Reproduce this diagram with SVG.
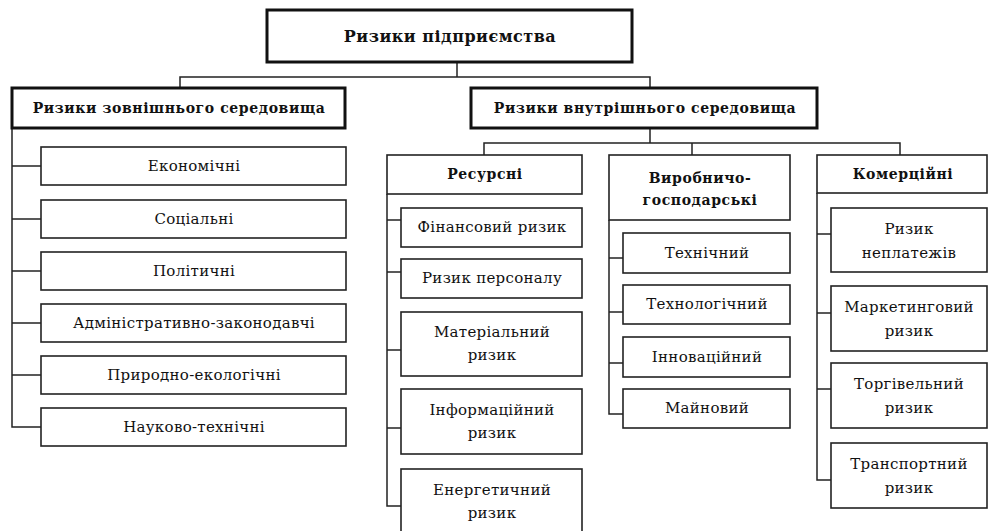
<svg xmlns="http://www.w3.org/2000/svg" width="989" height="531" viewBox="0 0 989 531">
<style>
  text { font-family: "DejaVu Serif", "Liberation Serif", serif; fill: #111; text-anchor: middle; }
  .t { font-size: 15px; letter-spacing: 0.3px; }
  .h { font-size: 14px; font-weight: bold; letter-spacing: 0.6px; }
  .ttl { font-size: 16px; font-weight: bold; letter-spacing: 0.5px; }
  .main { fill: #fff; stroke: #111; stroke-width: 3; }
  .box { fill: #fff; stroke: #222; stroke-width: 1.6; }
  .conn line, .conn polyline { stroke: #222; stroke-width: 1.5; fill: none; }
</style>
<rect width="989" height="531" fill="#fff"/>
<g class="conn" id="connectors">
  <polyline points="457,62 457,77"/>
  <polyline points="180,88 180,77 650,77 650,88"/>
  <polyline points="12,128 12,427 41,427"/>
  <line x1="12" y1="166" x2="41" y2="166"/>
  <line x1="12" y1="219" x2="41" y2="219"/>
  <line x1="12" y1="271" x2="41" y2="271"/>
  <line x1="12" y1="323" x2="41" y2="323"/>
  <line x1="12" y1="375" x2="41" y2="375"/>
  <polyline points="650,128 650,143"/>
  <polyline points="484,155 484,143 900,143 900,155"/>
  <line x1="692" y1="143" x2="692" y2="155"/>
  <polyline points="387,194 387,506 401,506"/>
  <line x1="387" y1="220" x2="401" y2="220"/>
  <line x1="387" y1="272" x2="401" y2="272"/>
  <line x1="387" y1="350" x2="401" y2="350"/>
  <line x1="387" y1="428" x2="401" y2="428"/>
  <polyline points="609,220 609,414 623,414"/>
  <line x1="609" y1="258" x2="623" y2="258"/>
  <line x1="609" y1="312" x2="623" y2="312"/>
  <line x1="609" y1="363" x2="623" y2="363"/>
  <polyline points="817,193 817,480 831,480"/>
  <line x1="817" y1="234" x2="831" y2="234"/>
  <line x1="817" y1="313" x2="831" y2="313"/>
  <line x1="817" y1="389" x2="831" y2="389"/>
</g>
<g id="root"><rect class="main" x="267" y="10" width="365" height="52"/><text class="ttl" x="450" y="42">Ризики підприємства</text></g>
<g id="external"><rect class="main" x="12" y="88" width="333" height="40"/><text class="h" x="179" y="113">Ризики зовнішнього середовища</text></g>
<g id="internal"><rect class="main" x="471" y="88" width="346" height="40"/><text class="h" x="645" y="113">Ризики внутрішнього середовища</text></g>
<g id="ext1"><rect class="box" x="41" y="147" width="305" height="38"/><text class="t" x="194" y="171">Економічні</text></g>
<g id="ext2"><rect class="box" x="41" y="200" width="305" height="38"/><text class="t" x="194" y="224">Соціальні</text></g>
<g id="ext3"><rect class="box" x="41" y="252" width="305" height="38"/><text class="t" x="194" y="276">Політичні</text></g>
<g id="ext4"><rect class="box" x="41" y="304" width="305" height="38"/><text class="t" x="194" y="328">Адміністративно-законодавчі</text></g>
<g id="ext5"><rect class="box" x="41" y="356" width="305" height="38"/><text class="t" x="194" y="380">Природно-екологічні</text></g>
<g id="ext6"><rect class="box" x="41" y="408" width="305" height="38"/><text class="t" x="194" y="432">Науково-технічні</text></g>
<g id="res"><rect class="box" x="387" y="155" width="195" height="39"/><text class="h" x="485" y="179">Ресурсні</text></g>
<g id="res1"><rect class="box" x="401" y="208" width="181" height="39"/><text class="t" x="492" y="232">Фінансовий ризик</text></g>
<g id="res2"><rect class="box" x="401" y="259" width="181" height="39"/><text class="t" x="492" y="283">Ризик персоналу</text></g>
<g id="res3"><rect class="box" x="401" y="312" width="181" height="64"/><text class="t" x="492" y="337">Матеріальний</text><text class="t" x="492" y="360">ризик</text></g>
<g id="res4"><rect class="box" x="401" y="389" width="181" height="65"/><text class="t" x="492" y="415">Інформаційний</text><text class="t" x="492" y="438">ризик</text></g>
<g id="res5"><rect class="box" x="401" y="469" width="181" height="70"/><text class="t" x="492" y="495">Енергетичний</text><text class="t" x="492" y="518">ризик</text></g>
<g id="prod"><rect class="box" x="609" y="155" width="181" height="65"/><text class="h" x="700" y="183">Виробничо-</text><text class="h" x="700" y="205">господарські</text></g>
<g id="prod1"><rect class="box" x="623" y="233" width="167" height="40"/><text class="t" x="707" y="258">Технічний</text></g>
<g id="prod2"><rect class="box" x="623" y="285" width="167" height="39"/><text class="t" x="707" y="309">Технологічний</text></g>
<g id="prod3"><rect class="box" x="623" y="337" width="167" height="40"/><text class="t" x="707" y="362">Інноваційний</text></g>
<g id="prod4"><rect class="box" x="623" y="389" width="167" height="39"/><text class="t" x="707" y="413">Майновий</text></g>
<g id="com"><rect class="box" x="817" y="155" width="170" height="38"/><text class="h" x="903" y="179">Комерційні</text></g>
<g id="com1"><rect class="box" x="831" y="208" width="156" height="64"/><text class="t" x="909" y="234">Ризик</text><text class="t" x="909" y="258">неплатежів</text></g>
<g id="com2"><rect class="box" x="831" y="286" width="156" height="65"/><text class="t" x="909" y="312">Маркетинговий</text><text class="t" x="909" y="336">ризик</text></g>
<g id="com3"><rect class="box" x="831" y="363" width="156" height="65"/><text class="t" x="909" y="389">Торгівельний</text><text class="t" x="909" y="413">ризик</text></g>
<g id="com4"><rect class="box" x="831" y="443" width="156" height="65"/><text class="t" x="909" y="469">Транспортний</text><text class="t" x="909" y="493">ризик</text></g>
</svg>
